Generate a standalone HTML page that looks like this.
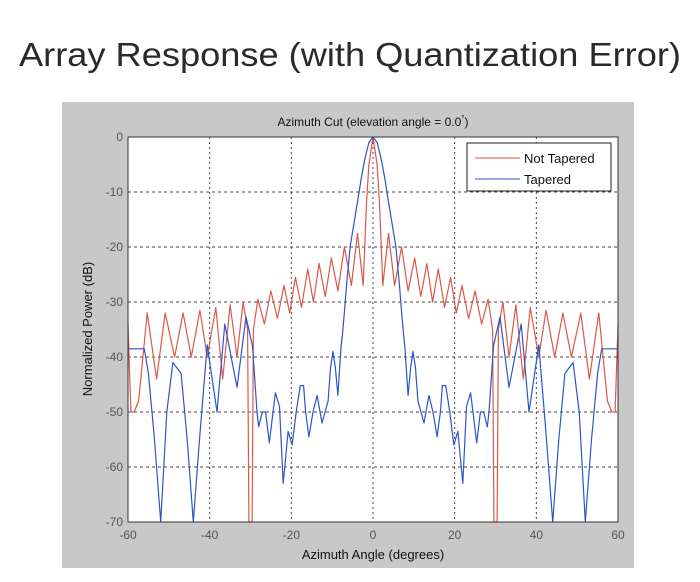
<!DOCTYPE html>
<html><head><meta charset="utf-8"><style>
body{margin:0;background:#fff;width:700px;height:577px;overflow:hidden;font-family:"Liberation Sans",sans-serif}
</style></head><body>
<svg width="700" height="577">
<text x="350" y="66" text-anchor="middle" font-size="33" fill="#2a2a2a" textLength="662" lengthAdjust="spacingAndGlyphs">Array Response (with Quantization Error)</text>
<rect x="62" y="102" width="572" height="466" fill="#c8c8c8"/>
<rect x="128" y="137" width="490" height="385" fill="#fff"/>
<g id="grid"></g>
<g id="ticks" font-size="12" fill="#555"></g>
<g id="series"></g>
<rect x="128" y="137" width="490" height="385" fill="none" stroke="#333" stroke-width="1"/>
<text x="373" y="126" text-anchor="middle" font-size="12" fill="#111">Azimuth Cut (elevation angle = 0.0<tspan font-size="8" dy="-5">°</tspan><tspan dy="5">)</tspan></text>
<text x="373" y="559" text-anchor="middle" font-size="13" fill="#111">Azimuth Angle (degrees)</text>
<text transform="translate(92,329) rotate(-90)" text-anchor="middle" font-size="13" fill="#111">Normalized Power (dB)</text>
<g>
<rect x="467" y="143" width="144" height="48" fill="#fff" stroke="#222"/>
<line x1="475" y1="158" x2="520" y2="158" stroke="#d9594a"/>
<text x="524" y="163" font-size="13" fill="#111">Not Tapered</text>
<line x1="475" y1="179" x2="520" y2="179" stroke="#2c55c8"/>
<text x="524" y="184" font-size="13" fill="#111">Tapered</text>
</g>
</svg>
<script>
const xTicks=[-60,-40,-20,0,20,40,60];
const yTicks=[0,-10,-20,-30,-40,-50,-60,-70];
const redAngles=[0,1,1.6,2.4,3.8,5.3,7,8.6,10.2,11.7,13.2,14.6,16,17.5,19,20.4,21.8,23.4,25,26.6,28.2,29.3,29.6,30.4,30.7,31.8,33.3,35,36.8,38.5,40.6,42.4,44.5,46.5,48.6,50.9,53,55.3,57.4,58.5,59.3,60];
const redValues=[0,-5,-12,-27,-17.5,-27,-20,-28,-22,-29,-23,-30,-24,-31,-25.5,-32,-27,-33,-28,-34,-29.5,-35,-70,-70,-35,-30,-40,-30.5,-44,-31,-40,-31.5,-40,-32,-40,-32,-44,-32,-48,-50,-50,-34];
const blueAngles=[0,1,2,3,3.4,4.5,5.6,6.5,6.9,7.2,7.5,7.8,8.6,9.2,9.8,10.4,11,12.5,13.7,14.7,15.7,16.5,17,17.8,18.8,19.8,20.8,22,22.9,23.9,25.4,26.3,27.1,28,28.4,29.5,31.1,33.3,36.3,38.2,40.6,42.5,44,45.5,47,49,50.5,52,53.5,55,56,60];
const blueValues=[0,-1,-4,-8,-10,-15,-20,-27,-31,-33.5,-36,-38,-47,-42,-39,-42,-48,-52,-47,-50,-54.5,-50,-45.2,-45.2,-50,-56,-53.5,-63,-49,-46.5,-55.6,-50,-50,-52.7,-50,-38,-32.7,-45.5,-34,-50,-37.8,-55,-70,-55,-43,-41,-50,-70,-55,-43,-38.5,-38.5];
const X=a=>128+(a+60)/120*490, Y=v=>137+(-v)/70*385;
const NS='http://www.w3.org/2000/svg';
const grid=document.getElementById('grid'),ticks=document.getElementById('ticks'),ser=document.getElementById('series');
function mk(tag,at,p){const e=document.createElementNS(NS,tag);for(const k in at)e.setAttribute(k,at[k]);p.appendChild(e);return e;}
xTicks.forEach(t=>{
 if(t>-60&&t<60){const l=mk('line',{x1:X(t),x2:X(t),y1:137,y2:522,stroke:'#444','stroke-dasharray':'2,3','stroke-width':1},grid);
 
 }
 const tx=mk('text',{x:X(t),y:539,'text-anchor':'middle'},ticks);tx.textContent=t;
 
 
});
yTicks.forEach(t=>{
 if(t<0&&t>-70){const l=mk('line',{x1:128,x2:618,y1:Y(t),y2:Y(t),stroke:'#444','stroke-dasharray':'3,3','stroke-width':1},grid);
 
 }
 const tx=mk('text',{x:123,y:Y(t)+4,'text-anchor':'end'},ticks);tx.textContent=t;
 
 
});
function path(ang,val,color,name){
 const pts=[];
 for(let i=ang.length-1;i>0;i--)pts.push([-ang[i],val[i]]);
 for(let i=0;i<ang.length;i++)pts.push([ang[i],val[i]]);
 const d=pts.map((p,i)=>(i?'L':'M')+X(p[0]).toFixed(1)+','+Y(p[1]).toFixed(1)).join('');
 const p=mk('path',{d:d,fill:'none',stroke:color,'stroke-width':1.2,'stroke-linejoin':'round'},ser);
 
 
}
path(redAngles,redValues,'#d9594a','not-tapered-line');
path(blueAngles,blueValues,'#2c55c8','tapered-line');
</script>
</body></html>
